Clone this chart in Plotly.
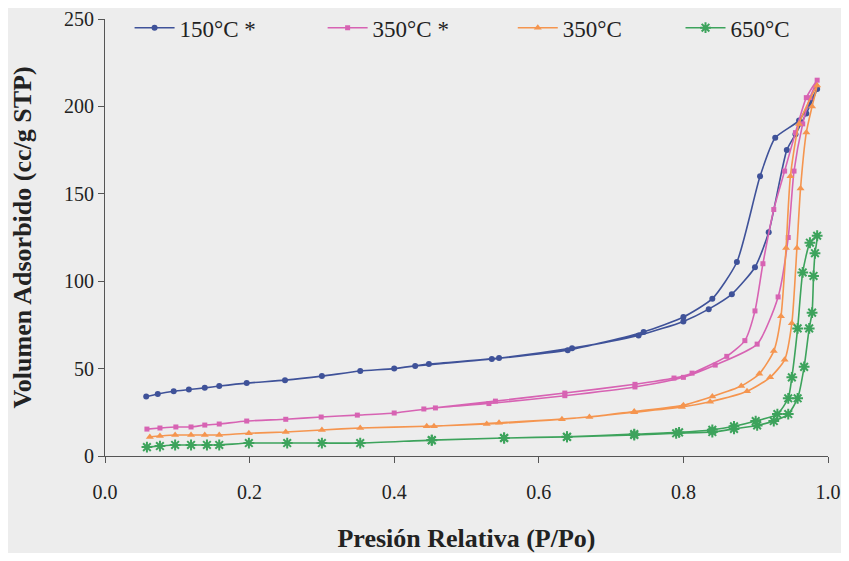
import plotly.graph_objects as go

# 150°C * (adsorption ascending, then desorption descending)
x_150s = [0.057, 0.073, 0.095, 0.116, 0.138, 0.158, 0.196, 0.249, 0.300, 0.353, 0.400, 0.448, 0.545, 0.646, 0.738, 0.800, 0.835, 0.867, 0.899, 0.918, 0.943, 0.955, 0.970, 0.985,
          0.960, 0.927, 0.906, 0.874, 0.840, 0.800, 0.745, 0.640, 0.535, 0.429]
y_150s = [34.0, 35.5, 37.0, 38.0, 39.0, 40.0, 41.7, 43.4, 45.7, 48.6, 50.0, 52.6, 56.0, 61.7, 69.0, 77.0, 84.0, 92.6, 108.0, 128.0, 175.0, 184.0, 196.0, 210.0,
          192.0, 182.0, 160.0, 111.0, 90.0, 79.5, 71.0, 60.5, 55.5, 51.5]

# 350°C *
x_350s = [0.058, 0.076, 0.098, 0.119, 0.138, 0.158, 0.196, 0.250, 0.299, 0.349, 0.400, 0.457, 0.531, 0.636, 0.733, 0.800, 0.844, 0.902, 0.931, 0.945, 0.953, 0.965, 0.975, 0.985,
          0.970, 0.955, 0.940, 0.925, 0.910, 0.899, 0.885, 0.860, 0.812, 0.787, 0.733, 0.636, 0.540, 0.441]
y_350s = [15.4, 16.0, 16.6, 16.6, 17.7, 18.3, 20.0, 21.0, 22.3, 23.4, 24.6, 27.5, 30.0, 34.5, 39.5, 45.0, 52.0, 64.0, 91.0, 125.0, 163.0, 190.0, 205.0, 215.0,
          205.0, 185.0, 163.0, 141.0, 110.0, 83.0, 66.0, 57.0, 47.4, 44.6, 41.0, 36.0, 31.4, 26.9]

# 350°C
x_350 = [0.062, 0.076, 0.097, 0.119, 0.138, 0.158, 0.199, 0.250, 0.300, 0.353, 0.445, 0.528, 0.632, 0.732, 0.798, 0.837, 0.888, 0.920, 0.940, 0.950, 0.957, 0.962, 0.970, 0.978, 0.985,
         0.960, 0.948, 0.942, 0.935, 0.925, 0.905, 0.880, 0.840, 0.800, 0.732, 0.670, 0.545, 0.455]
y_350 = [10.9, 11.4, 12.0, 12.0, 12.0, 12.0, 13.0, 13.7, 14.9, 16.0, 17.0, 18.3, 21.0, 25.0, 28.0, 31.0, 37.0, 45.0, 55.0, 76.0, 119.0, 153.0, 185.0, 200.0, 212.0,
         190.0, 160.0, 119.0, 80.0, 60.0, 47.0, 40.0, 34.0, 29.0, 25.5, 22.3, 19.0, 17.0]

# 650°C
x_650 = [0.058, 0.076, 0.097, 0.119, 0.141, 0.158, 0.199, 0.252, 0.300, 0.353, 0.452, 0.552, 0.639, 0.732, 0.790, 0.840, 0.870, 0.902, 0.925, 0.945, 0.958, 0.967, 0.974, 0.978, 0.980, 0.982, 0.985,
         0.975, 0.965, 0.958, 0.950, 0.945, 0.930, 0.900, 0.870, 0.840, 0.794, 0.732, 0.639, 0.552, 0.452]
y_650 = [5.1, 5.7, 6.3, 6.3, 6.3, 6.3, 7.4, 7.4, 7.4, 7.4, 9.1, 10.3, 10.9, 12.0, 13.0, 13.7, 15.5, 17.5, 20.0, 24.0, 33.0, 51.0, 73.0, 82.0, 103.0, 116.0, 126.0,
         122.0, 105.0, 73.0, 45.0, 33.0, 24.0, 20.0, 17.0, 15.0, 13.5, 12.5, 11.0, 10.3, 9.0]

names = ["150°C *", "350°C *", "350°C", "650°C"]
xs = [x_150s, x_350s, x_350, x_650]
ys = [y_150s, y_350s, y_350, y_650]
colors = ["#3f5299", "#d763b3", "#f5954f", "#3da35c"]
symbols = ["circle", "square", "triangle-up", "asterisk-open"]
sizes = [6, 5, 7, 9]

x_ticks = [0.0, 0.2, 0.4, 0.6, 0.8, 1.0]
y_ticks = [0, 50, 100, 150, 200, 250]

legend_ids = ["legend", "legend2", "legend3", "legend4"]
legend_x = [0.034, 0.301, 0.564, 0.796]

serif = "Liberation Serif, Times New Roman, serif"

fig = go.Figure()
for n, x, y, c, s, sz, lg in zip(names, xs, ys, colors, symbols, sizes, legend_ids):
    mk = dict(symbol=s, size=sz, color=c)
    if s == "asterisk-open":
        mk["line"] = dict(color=c, width=2)
    fig.add_trace(go.Scatter(x=x, y=y, name=n, mode="lines+markers", legend=lg,
                             line=dict(color=c, width=1.6, shape="spline", smoothing=0.6),
                             marker=mk))

legend_layout = {}
for lg, lx in zip(legend_ids, legend_x):
    legend_layout[lg] = dict(orientation="h", x=lx, y=0.98, xanchor="left", yanchor="middle",
                             bgcolor="rgba(0,0,0,0)", font=dict(size=23, family=serif, color="#222222"),
                             itemwidth=40)

fig.update_layout(
    width=833, height=545,
    margin=dict(l=97, r=13, t=11, b=97, autoexpand=False),
    paper_bgcolor="#ededed", plot_bgcolor="#ededed",
    font=dict(family=serif, size=20, color="#222222"),
    showlegend=True,
    xaxis=dict(range=[0, 1], tickvals=x_ticks, ticktext=[f"{v:.1f}" for v in x_ticks],
               showgrid=False, zeroline=False, showline=True, linecolor="#555555", linewidth=1.2,
               ticks="outside", ticklen=6, tickcolor="#555555", ticklabelstandoff=12,
               ticklabeloverflow="allow", automargin=False,
               title=dict(text="<b>Presión Relativa (P/Po)</b>", font=dict(size=26, family=serif), standoff=30)),
    yaxis=dict(range=[0, 250], tickvals=y_ticks, showgrid=False, zeroline=False,
               showline=True, linecolor="#555555", linewidth=1.2,
               ticks="outside", ticklen=6, tickcolor="#555555",
               ticklabeloverflow="allow", automargin=False,
               title=dict(text="<b>Volumen Adsorbido (cc/g STP)</b>", font=dict(size=26, family=serif), standoff=33)),
    **legend_layout,
)

fig.write_html("out.html")
